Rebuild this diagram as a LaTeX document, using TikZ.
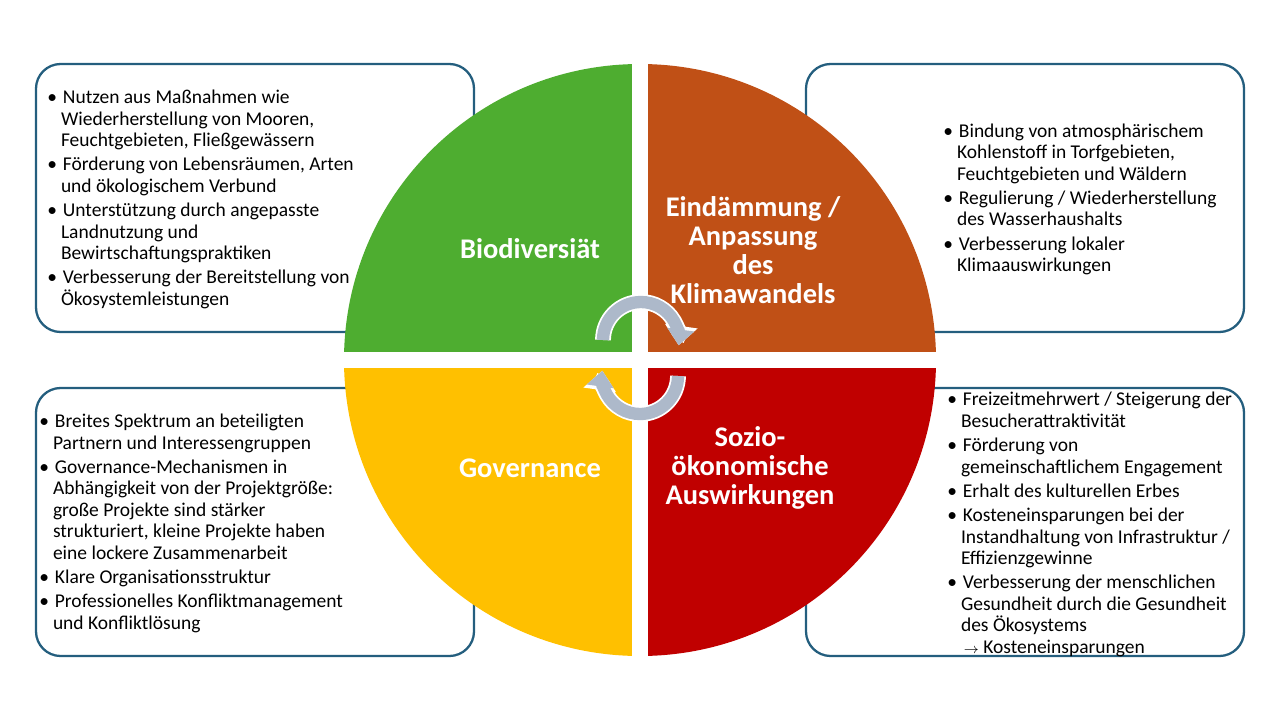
\documentclass[tikz,border=0pt]{standalone}
\usepackage{fontspec}
\setmainfont{Carlito}
\usetikzlibrary{arrows.meta}
\definecolor{biogreen}{HTML}{4EAD30}
\definecolor{klimaorange}{HTML}{C05016}
\definecolor{govyellow}{HTML}{FFC000}
\definecolor{soziored}{HTML}{C00000}
\definecolor{boxline}{HTML}{245E7E}
\definecolor{arrowgrey}{HTML}{ADB9CA}
\newcommand{\itm}[1]{\par\vspace{1.6pt}\hangindent=0.7em\hangafter=1\noindent\textbullet\hspace{0.3em}#1}
\newcommand{\itemblock}[2]{\parbox{#1}{\raggedright\hyphenpenalty=10000\exhyphenpenalty=10000 #2}}
\tikzset{
  infobox/.style={draw=boxline,line width=1.3pt,rounded corners=14pt,fill=white},
  infotext/.style={anchor=west,inner sep=0pt,font=\fontsize{11.1}{12.2}\selectfont,align=left},
  title/.style={text=white,font=\fontsize{16.2}{16.5}\selectfont\bfseries,align=center},
  cyc/.style={line width=7pt,arrowgrey,-{Triangle[length=9pt,width=15pt]}},
  cycrim/.style={line width=9pt,white,-{Triangle[length=11pt,width=18pt]}}
}
\begin{document}
\begin{tikzpicture}[x=0.02cm,y=-0.02cm]
	\useasboundingbox (0,0) rectangle (1280,720);
	%
	\draw[infobox] (36,64) rectangle (474,332);
	\draw[infobox] (806,64) rectangle (1244,332);
	\draw[infobox] (36,388) rectangle (474,656);
	\draw[infobox] (806,388) rectangle (1244,656);
	%
	\fill[biogreen] (640,360) -- (344,360) arc[start angle=180,end angle=270,radius=296] -- cycle;
	\fill[klimaorange] (640,360) -- (640,64) arc[start angle=270,end angle=360,radius=296] -- cycle;
	\fill[soziored] (640,360) -- (936,360) arc[start angle=0,end angle=90,radius=296] -- cycle;
	\fill[govyellow] (640,360) -- (640,656) arc[start angle=90,end angle=180,radius=296] -- cycle;
	\draw[white,line width=16*0.02cm] (640,50) -- (640,670);
	\draw[white,line width=16*0.02cm] (330,360) -- (950,360);
	%
	\node[title] (bio) at (530,249) {Biodiversiät};
	\node[title] (klima) at (753,250) {Eindämmung /\\Anpassung\\des\\Klimawandels};
	\node[title] (gov) at (530,468) {Governance};
	\node[title] (sozio) at (750,468) {Sozio-\\ökonomische\\Auswirkungen};
	%
	\coordinate (ta) at (603,340);
	\coordinate (ba) at (678,376);
	\draw[cycrim] (ta) arc[start angle=180,end angle=368,radius=38];
	\draw[cyc] (ta) arc[start angle=180,end angle=368,radius=38];
	\draw[cycrim] (ba) arc[start angle=0,end angle=188,radius=38];
	\draw[cyc] (ba) arc[start angle=0,end angle=188,radius=38];
	%
	\node[infotext] (biotext) at (47,198) {\itemblock{6.3cm}{%
		\itm{Nutzen aus Maßnahmen wie Wiederherstellung von Mooren, Feuchtgebieten, Fließgewässern}
		\itm{Förderung von Lebensräumen, Arten und ökologischem Verbund}
		\itm{Unterstützung durch angepasste Landnutzung und Bewirtschaftungspraktiken}
		\itm{Verbesserung der Bereitstellung von Ökosystemleistungen}}};
	\node[infotext] (klimatext) at (943,198) {\itemblock{5.7cm}{%
		\itm{Bindung von atmosphärischem Kohlenstoff in Torfgebieten, Feuchtgebieten und Wäldern}
		\itm{Regulierung / Wiederherstellung des Wasserhaushalts}
		\itm{Verbesserung lokaler Klimaauswirkungen}}};
	\node[infotext] (govtext) at (39,522) {\itemblock{6.4cm}{%
		\itm{Breites Spektrum an beteiligten Partnern und Interessengruppen}
		\itm{Governance-Mechanismen in Abhängigkeit von der Projektgröße: große Projekte sind stärker strukturiert, kleine Projekte haben eine lockere Zusammenarbeit}
		\itm{Klare Organisationsstruktur}
		\itm{Professionelles Konfliktmanagement und Konfliktlösung}}};
	\node[infotext] (soziotext) at (947,523) {\itemblock{5.8cm}{%
		\itm{Freizeitmehrwert / Steigerung der Besucherattraktivität}
		\itm{Förderung von gemeinschaftlichem Engagement}
		\itm{Erhalt des kulturellen Erbes}
		\itm{Kosteneinsparungen bei der Instandhaltung von Infrastruktur / Effizienzgewinne}
		\itm{Verbesserung der menschlichen Gesundheit durch die Gesundheit des Ökosystems}
		\par\noindent\hspace*{0.85em}$\scriptstyle\rightarrow$ Kosteneinsparungen}};
\end{tikzpicture}
\end{document}
